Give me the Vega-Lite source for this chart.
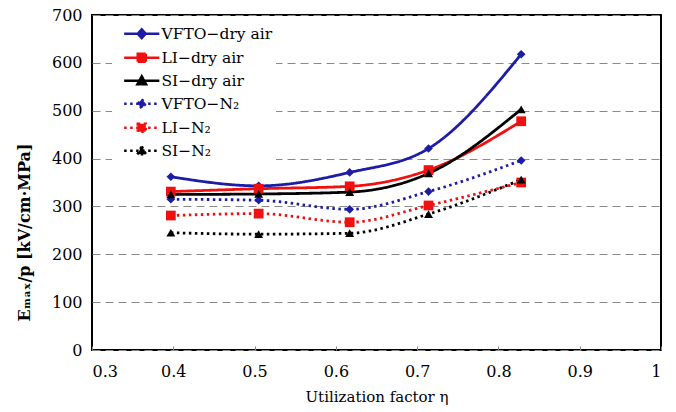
{
  "$schema": "https://vega.github.io/schema/vega-lite/v6.json",
  "width": 569,
  "height": 335,
  "autosize": "none",
  "padding": {"left": 92, "top": 15, "right": 15, "bottom": 62},
  "background": "white",
  "config": {
    "view": {"stroke": "#000", "strokeWidth": 2},
    "font": "DejaVu Serif"
  },
  "data": {
    "values": [
      {"eta": 0.397, "E": 362, "series": "VFTO−dry air"},
      {"eta": 0.505, "E": 343, "series": "VFTO−dry air"},
      {"eta": 0.617, "E": 371, "series": "VFTO−dry air"},
      {"eta": 0.714, "E": 421, "series": "VFTO−dry air"},
      {"eta": 0.828, "E": 618, "series": "VFTO−dry air"},
      {"eta": 0.397, "E": 331, "series": "LI−dry air"},
      {"eta": 0.505, "E": 337, "series": "LI−dry air"},
      {"eta": 0.617, "E": 342, "series": "LI−dry air"},
      {"eta": 0.714, "E": 376, "series": "LI−dry air"},
      {"eta": 0.828, "E": 478, "series": "LI−dry air"},
      {"eta": 0.397, "E": 325, "series": "SI−dry air"},
      {"eta": 0.505, "E": 326, "series": "SI−dry air"},
      {"eta": 0.617, "E": 330, "series": "SI−dry air"},
      {"eta": 0.714, "E": 369, "series": "SI−dry air"},
      {"eta": 0.828, "E": 503, "series": "SI−dry air"},
      {"eta": 0.397, "E": 315, "series": "VFTO−N₂"},
      {"eta": 0.505, "E": 313, "series": "VFTO−N₂"},
      {"eta": 0.617, "E": 294, "series": "VFTO−N₂"},
      {"eta": 0.714, "E": 331, "series": "VFTO−N₂"},
      {"eta": 0.828, "E": 396, "series": "VFTO−N₂"},
      {"eta": 0.397, "E": 281, "series": "LI−N₂"},
      {"eta": 0.505, "E": 285, "series": "LI−N₂"},
      {"eta": 0.617, "E": 267, "series": "LI−N₂"},
      {"eta": 0.714, "E": 302, "series": "LI−N₂"},
      {"eta": 0.828, "E": 350, "series": "LI−N₂"},
      {"eta": 0.397, "E": 245, "series": "SI−N₂"},
      {"eta": 0.505, "E": 242, "series": "SI−N₂"},
      {"eta": 0.617, "E": 244, "series": "SI−N₂"},
      {"eta": 0.714, "E": 284, "series": "SI−N₂"},
      {"eta": 0.828, "E": 356, "series": "SI−N₂"}
    ]
  },
  "encoding": {
    "x": {
      "field": "eta", "type": "quantitative",
      "scale": {"domain": [0.3, 1], "nice": false, "zero": false},
      "axis": {
        "values": [0.3, 0.4, 0.5, 0.6, 0.7, 0.8, 0.9, 1],
        "format": ".1~f",
        "title": "Utilization factor  η",
        "titleFont": "DejaVu Serif", "titleFontSize": 15, "titleFontWeight": "normal", "titleColor": "#000",
        "titlePadding": 10,
        "labelFont": "DejaVu Serif", "labelFontSize": 16, "labelColor": "#000",
        "labelPadding": 17,
        "grid": false, "domain": false,
        "ticks": true, "tickSize": -4, "tickColor": "#888", "tickWidth": 1
      }
    },
    "y": {
      "field": "E", "type": "quantitative",
      "scale": {"domain": [0, 700], "nice": false},
      "axis": {
        "values": [0, 100, 200, 300, 400, 500, 600, 700],
        "title": "Eₘₐₓ/p [kV/cm·MPa]",
        "titleFont": "DejaVu Serif", "titleFontSize": 16, "titleFontWeight": "bold", "titleColor": "#000",
        "titleX": -60, "titleY": 217,
        "labelFont": "DejaVu Serif", "labelFontSize": 16, "labelColor": "#000",
        "labelPadding": 10,
        "ticks": false, "domain": false,
        "grid": true, "gridColor": "#8a8a8a", "gridDash": [8, 5], "gridWidth": 1
      }
    },
    "color": {
      "field": "series", "type": "nominal", "title": null,
      "scale": {
        "domain": ["VFTO−dry air", "LI−dry air", "SI−dry air", "VFTO−N₂", "LI−N₂", "SI−N₂"],
        "range": ["#1c1ca8", "#f01010", "#000000", "#1c1ca8", "#f01010", "#000000"]
      },
      "legend": {
        "orient": "none", "legendX": 20, "legendY": 8,
        "title": null,
        "fillColor": "white", "padding": 3,
        "labelFont": "DejaVu Serif", "labelFontSize": 15.5, "labelColor": "#000",
        "labelOffset": 12, "symbolOffset": 19,
        "symbolSize": 64, "symbolStrokeWidth": 2.5, "symbolOpacity": 1,
        "rowPadding": 4,
        "encode": {
          "symbols": {
            "update": {
              "fill": {"scale": "color", "field": "value"},
              "stroke": {"scale": "color", "field": "value"},
              "strokeDash": {"scale": "strokeDash", "field": "value"},
              "opacity": {"value": 1},
              "strokeWidth": {"value": 2.5}
            }
          }
        }
      }
    }
  },
  "layer": [
    {
      "mark": {"type": "line", "interpolate": "monotone", "strokeWidth": 2.8},
      "encoding": {
        "strokeDash": {
          "field": "series", "type": "nominal", "title": null,
          "scale": {
            "domain": ["VFTO−dry air", "LI−dry air", "SI−dry air", "VFTO−N₂", "LI−N₂", "SI−N₂"],
            "range": [[1, 0], [1, 0], [1, 0], [2.5, 3.5], [2.5, 3.5], [2.5, 3.5]]
          }
        }
      }
    },
    {
      "transform": [{"filter": {"field": "series", "oneOf": ["VFTO−dry air", "VFTO−N₂"]}}],
      "mark": {"type": "point", "shape": "diamond", "filled": true, "size": 75, "opacity": 1}
    },
    {
      "transform": [{"filter": {"field": "series", "oneOf": ["LI−dry air", "LI−N₂"]}}],
      "mark": {"type": "point", "shape": "square", "filled": true, "size": 95, "opacity": 1}
    },
    {
      "transform": [{"filter": {"field": "series", "oneOf": ["SI−dry air", "SI−N₂"]}}],
      "mark": {"type": "point", "shape": "triangle-up", "filled": true, "size": 80, "opacity": 1}
    },
    {
      "mark": {"type": "point", "filled": true, "opacity": 0},
      "encoding": {
        "shape": {
          "field": "series", "type": "nominal", "title": null,
          "scale": {
            "domain": ["VFTO−dry air", "LI−dry air", "SI−dry air", "VFTO−N₂", "LI−N₂", "SI−N₂"],
            "range": [
              "M-4.4,0H4.4M0,-1.1L1,0L0,1.1L-1,0Z",
              "M-4.4,0H4.4M-1,-1H1V1H-1Z",
              "M-4.4,0H4.4M0,-1.1L1.1,0.9H-1.1Z",
              "M-4.4,0H4.4M0,-1.1L1,0L0,1.1L-1,0Z",
              "M-4.4,0H4.4M-1,-1H1V1H-1Z",
              "M-4.4,0H4.4M0,-1.1L1.1,0.9H-1.1Z"
            ]
          }
        },
        "strokeDash": {"field": "series", "type": "nominal", "title": null}
      }
    }
  ]
}
